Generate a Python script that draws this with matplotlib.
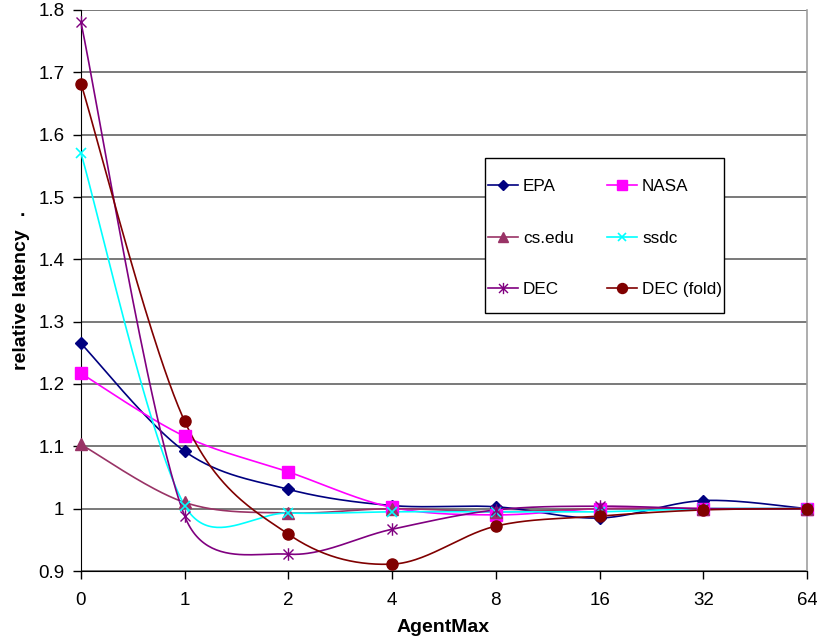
import numpy as np
import matplotlib
matplotlib.use("Agg")
import matplotlib.pyplot as plt
from matplotlib.path import Path
from matplotlib.patches import Rectangle

plt.rcParams['font.family'] = ['Liberation Sans', 'DejaVu Sans']

agent_max = ['0', '1', '2', '4', '8', '16', '32', '64']

epa      = [1.265, 1.092, 1.031, 1.005, 1.003, 0.985, 1.013, 1.000]
nasa     = [1.217, 1.116, 1.059, 1.002, 0.990, 1.000, 1.000, 1.000]
cs_edu   = [1.103, 1.010, 0.993, 1.000, 0.995, 1.000, 1.000, 1.000]
ssdc     = [1.570, 1.005, 0.993, 0.995, 0.995, 0.995, 1.000, 1.000]
dec      = [1.780, 0.988, 0.927, 0.967, 0.998, 1.004, 1.000, 1.000]
dec_fold = [1.682, 1.140, 0.959, 0.911, 0.972, 0.988, 0.998, 1.000]

series_names = ['EPA', 'NASA', 'cs.edu', 'ssdc', 'DEC', 'DEC (fold)']
series_values = [epa, nasa, cs_edu, ssdc, dec, dec_fold]

# asterisk marker: vertical bar plus two diagonals
star_path = Path(
    [(0, -1), (0, 1), (-0.8, -0.8), (0.8, 0.8), (-0.8, 0.8), (0.8, -0.8)],
    [Path.MOVETO, Path.LINETO, Path.MOVETO, Path.LINETO, Path.MOVETO, Path.LINETO],
)

styles = [
    dict(color='#000080', marker='D', ms=6, mfc='#000080', mec='#000080'),
    dict(color='#FF00FF', marker='s', ms=8, mfc='#FF00FF', mec='#FF00FF'),
    dict(color='#993366', marker='^', ms=8, mfc='#993366', mec='#993366'),
    dict(color='#00FFFF', marker='x', ms=7, mfc='none', mec='#00FFFF', mew=1.2),
    dict(color='#800080', marker=star_path, ms=9, mfc='none', mec='#800080', mew=1.0),
    dict(color='#800000', marker='o', ms=8, mfc='#800000', mec='#800000'),
]

fig_w, fig_h = 817, 638
ax_left, ax_right, ax_top, ax_bottom = 81, 807, 10, 571
y_min, y_max = 0.9, 1.8
x_scale = (ax_right - ax_left) / (len(agent_max) - 1)
y_scale = (ax_bottom - ax_top) / (y_max - y_min)


def smooth(xs, ys, n=50):
    """Spreadsheet-style smoothed line: cubic Bezier segments whose control arms
    are 1/6 of the neighbour chord, capped at half the segment length (pixel space)."""
    px = np.asarray(xs, float) * x_scale
    py = np.asarray(ys, float) * y_scale
    pts = np.column_stack([px, py])
    m = len(pts)
    out = []
    for i in range(m - 1):
        p0 = pts[i - 1] if i > 0 else pts[i]
        p1 = pts[i]
        p2 = pts[i + 1]
        p3 = pts[i + 2] if i + 2 < m else pts[i + 1]
        d12 = np.hypot(*(p2 - p1))
        d02 = np.hypot(*(p2 - p0))
        d13 = np.hypot(*(p3 - p1))
        f1 = 1 / 6 if d02 / 6 < d12 / 2 else d12 / (2 * d02)
        f2 = 1 / 6 if d13 / 6 < d12 / 2 else d12 / (2 * d13)
        c1 = p1 + (p2 - p0) * f1
        c2 = p2 - (p3 - p1) * f2
        t = np.linspace(0, 1, n)[:, None]
        seg = ((1 - t) ** 3) * p1 + 3 * ((1 - t) ** 2) * t * c1 + 3 * (1 - t) * t ** 2 * c2 + t ** 3 * p2
        out.append(seg if i == 0 else seg[1:])
    out = np.vstack(out)
    return out[:, 0] / x_scale, out[:, 1] / y_scale


fig = plt.figure(figsize=(fig_w / 100, fig_h / 100), dpi=100)
ax = fig.add_axes([ax_left / fig_w, 1 - ax_bottom / fig_h,
                   (ax_right - ax_left) / fig_w, (ax_bottom - ax_top) / fig_h])

xpos = np.arange(len(agent_max))
handles = {}
for name, vals, st in zip(series_names, series_values, styles):
    sx, sy = smooth(xpos, vals)
    ax.plot(sx, sy, color=st['color'], lw=1.2, zorder=3, clip_on=False)
    ax.plot(xpos, vals, ls='none', marker=st['marker'], ms=st['ms'],
            mfc=st['mfc'], mec=st['mec'], mew=st.get('mew', 1.0), zorder=4, clip_on=False)
    h, = ax.plot([], [], color=st['color'], lw=1.2, marker=st['marker'], ms=st['ms'] * 0.9,
                 mfc=st['mfc'], mec=st['mec'], mew=st.get('mew', 1.0), label=name)
    handles[name] = h

ax.set_xlim(0, len(agent_max) - 1)
ax.set_ylim(y_min, y_max)
ax.set_xticks(xpos)
ax.set_xticklabels(agent_max, fontsize=13.5)
ax.set_yticks(np.round(np.arange(0.9, 1.81, 0.1), 1))
ax.set_yticklabels(['0.9', '1', '1.1', '1.2', '1.3', '1.4', '1.5', '1.6', '1.7', '1.8'], fontsize=13.5)
ax.yaxis.grid(True, color='#6e6e6e', lw=1.3)
ax.set_axisbelow(True)
ax.tick_params(axis='y', direction='out', length=6, width=1, color='black', pad=6)
ax.tick_params(axis='x', direction='out', length=6, width=1, color='black', pad=9)

ax.spines['right'].set_color('#a0a0a0')
ax.spines['right'].set_linewidth(1.2)
ax.spines['top'].set_visible(False)
ax.spines['left'].set_color('black')
ax.spines['bottom'].set_color('black')

fig.text(443 / fig_w, 1 - 628 / fig_h, 'AgentMax', fontsize=14, fontweight='bold',
         ha='center', va='center')
fig.text(22 / fig_w, 1 - 300 / fig_h, 'relative latency', fontsize=14, fontweight='bold',
         ha='center', va='center', rotation=90)
fig.text(22 / fig_w, 1 - 212 / fig_h, '.', fontsize=14, fontweight='bold', ha='center', va='center')

# legend frame drawn as a plain box over the plot
frame = Rectangle((485 / fig_w, 1 - 313 / fig_h), (724 - 485) / fig_w, (313 - 158) / fig_h,
                  transform=fig.transFigure, facecolor='white', edgecolor='black',
                  lw=1.0, zorder=4.5, clip_on=False)
ax.add_patch(frame)

# rows: EPA/NASA, cs.edu/ssdc, DEC/DEC (fold); legend fills column by column
legend_order = ['EPA', 'cs.edu', 'DEC', 'NASA', 'ssdc', 'DEC (fold)']
leg = ax.legend(handles=[handles[k] for k in legend_order], ncol=2, loc='upper left',
                bbox_to_anchor=((488 - ax_left) / (ax_right - ax_left),
                                (ax_bottom - 179) / (ax_bottom - ax_top)),
                fontsize=12.3, frameon=False,
                labelspacing=2.15, handlelength=1.75, handletextpad=0.3,
                columnspacing=1.95, borderpad=0, borderaxespad=0)
leg.set_zorder(5)

fig.savefig('out.png', dpi=100)
